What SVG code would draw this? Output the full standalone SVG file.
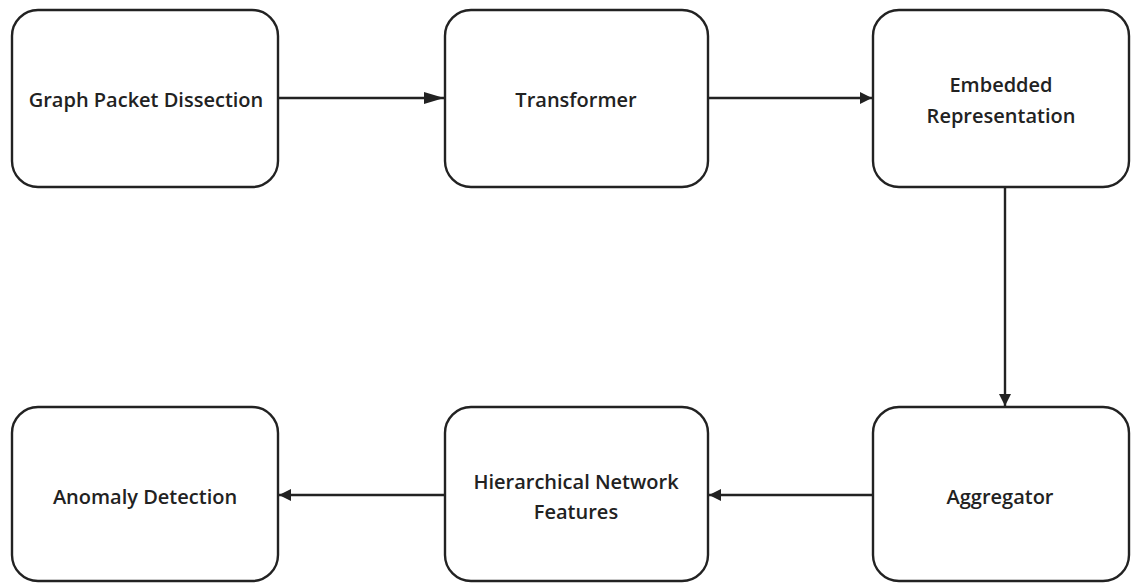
<svg xmlns="http://www.w3.org/2000/svg" width="1132" height="583" viewBox="0 0 1132 583">
<style>
.box{fill:#fff;stroke:#222;stroke-width:2.4}
.lbl{font-family:"Open Sans","Noto Sans",sans-serif;font-weight:600;font-size:20px;fill:#222;text-anchor:middle;dominant-baseline:central}
.edge{stroke:#222;stroke-width:2.4;fill:none}
</style>
<defs>
<marker id="arr" viewBox="0 0 12 12" refX="12" refY="6" markerWidth="12" markerHeight="12" markerUnits="userSpaceOnUse" orient="auto">
<path d="M0,0 L12,6 L0,12 z" fill="#222"/>
</marker>
<marker id="arrL" viewBox="0 0 20 12" refX="20" refY="6" markerWidth="20" markerHeight="12" markerUnits="userSpaceOnUse" orient="auto">
<path d="M0,0 L20,6 L0,12 z" fill="#222"/>
</marker>
</defs>
<rect width="1132" height="583" fill="#fff"/>
<g id="edges">
<line class="edge" x1="278" y1="98" x2="444" y2="98" marker-end="url(#arrL)"/>
<line class="edge" x1="708" y1="98" x2="872" y2="98" marker-end="url(#arr)"/>
<line class="edge" x1="1005" y1="187" x2="1005" y2="406" marker-end="url(#arr)"/>
<line class="edge" x1="873" y1="495" x2="709" y2="495" marker-end="url(#arr)"/>
<line class="edge" x1="445" y1="495" x2="279" y2="495" marker-end="url(#arr)"/>
</g>
<g id="n1"><rect class="box" x="12" y="10" width="266" height="177" rx="26"/><text class="lbl" x="146" y="99">Graph Packet Dissection</text></g>
<g id="n2"><rect class="box" x="445" y="10" width="263" height="177" rx="26"/><text class="lbl" x="576" y="99">Transformer</text></g>
<g id="n3"><rect class="box" x="873" y="10" width="256" height="177" rx="26"/><text class="lbl" x="1001" y="84">Embedded</text><text class="lbl" x="1001" y="115">Representation</text></g>
<g id="n4"><rect class="box" x="873" y="407" width="256" height="174" rx="26"/><text class="lbl" x="1000" y="496">Aggregator</text></g>
<g id="n5"><rect class="box" x="445" y="407" width="263" height="174" rx="26"/><text class="lbl" x="576" y="481">Hierarchical Network</text><text class="lbl" x="576" y="511">Features</text></g>
<g id="n6"><rect class="box" x="12" y="407" width="266" height="174" rx="26"/><text class="lbl" x="145" y="496">Anomaly Detection</text></g>
</svg>
